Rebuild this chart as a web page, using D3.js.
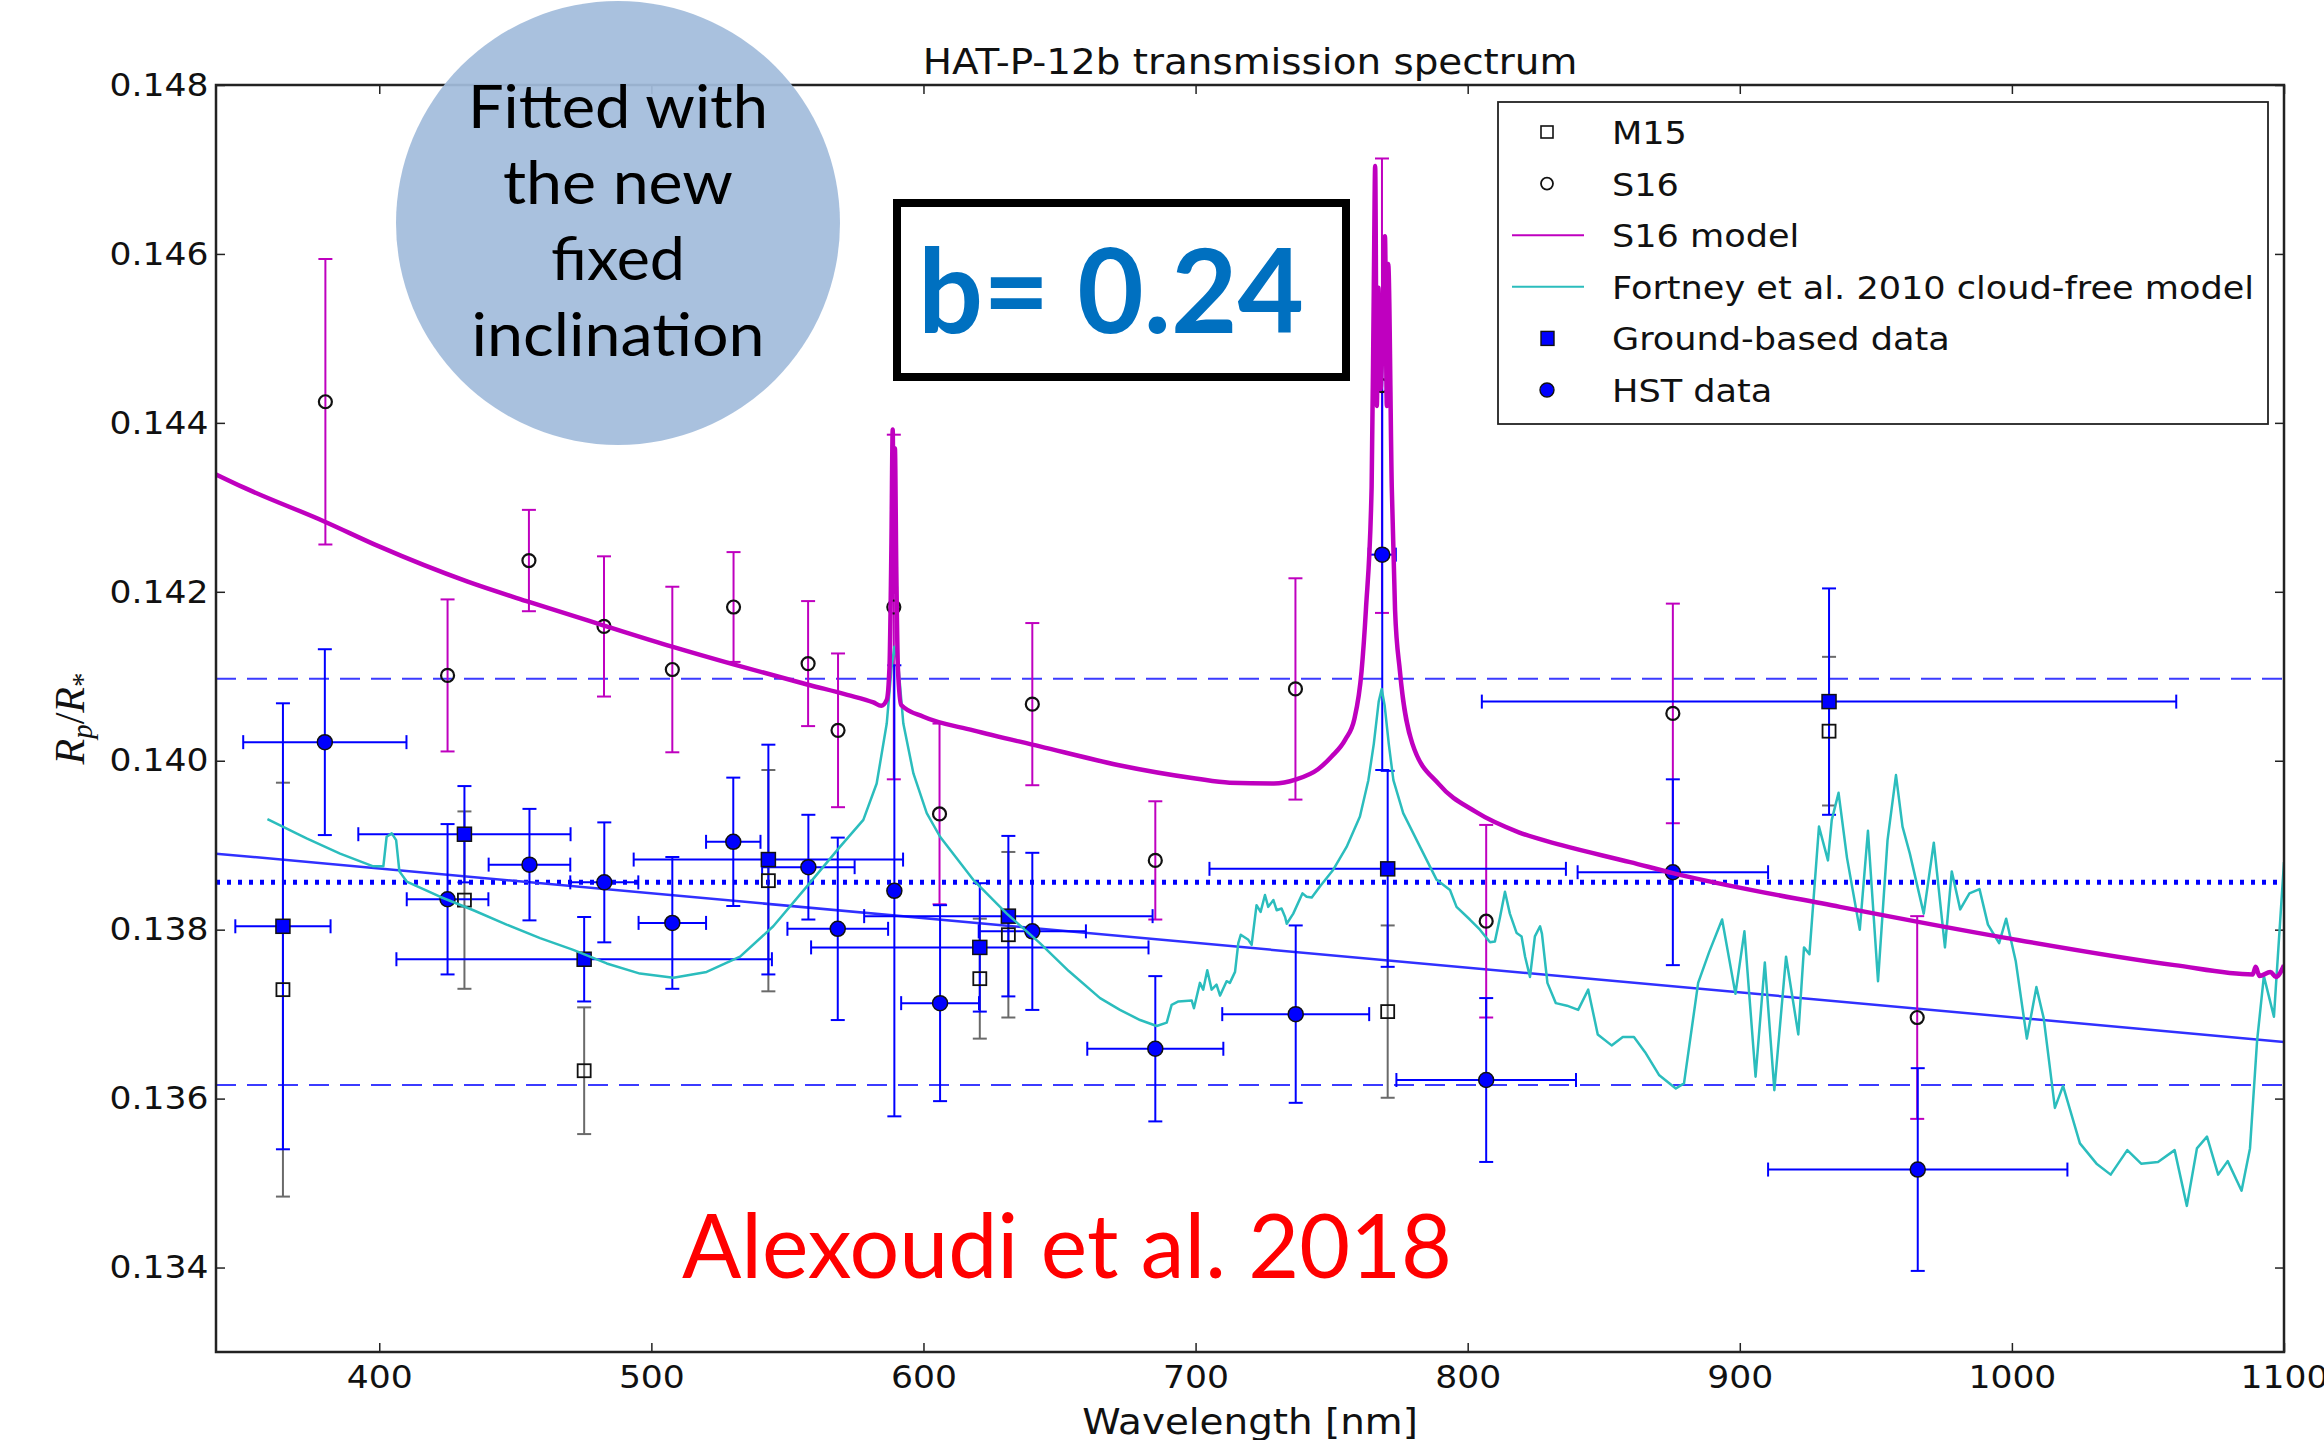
<!DOCTYPE html>
<html>
<head>
<meta charset="utf-8">
<script src="https://cdn.jsdelivr.net/npm/d3@7"></script>
<style>
  body { margin: 0; background: #fff; }
  text { font-family: "DejaVu Sans", sans-serif; }
</style>
</head>
<body>
<svg width="2324" height="1440"></svg>
<script>
// ---- data ----
const xTicks = [400, 500, 600, 700, 800, 900, 1000, 1100];
const yTicks = [0.134, 0.136, 0.138, 0.140, 0.142, 0.144, 0.146, 0.148];

// S16 (open circles, magenta error bars)
const s16Wave = [380.2, 425.1, 455.0, 482.6, 507.7, 530.2, 557.6, 568.6, 589.1, 605.9, 640.0, 685.2, 736.7, 768.5, 806.8, 875.4, 965.2];
const s16Val  = [0.14425, 0.14101, 0.14237, 0.14159, 0.14108, 0.14182, 0.14115, 0.14036, 0.14182, 0.13937, 0.14067, 0.13882, 0.14085, 0.14444, 0.13810, 0.14056, 0.13696];
const s16Err  = [0.00169, 0.0009, 0.0006, 0.00083, 0.00098, 0.00065, 0.00074, 0.00091, 0.00204, 0.00107, 0.00096, 0.0007, 0.00131, 0.00269, 0.00114, 0.0013, 0.0012];

// M15 (open squares, grey error bars)
const m15Wave = [364.6, 431.3, 475.3, 543.0, 620.7, 631.2, 770.6, 932.8];
const m15Val  = [0.13729, 0.13835, 0.13633, 0.13858, 0.13742, 0.13794, 0.13703, 0.14035];
const m15Err  = [0.00245, 0.00105, 0.00075, 0.00131, 0.00071, 0.00098, 0.00102, 0.00088];

// ground-based (filled squares)
const groundWave    = [364.6, 431.3, 475.3, 543.0, 620.7, 631.2, 770.6, 932.8];
const groundWaveErr = [17.5, 39, 69, 49.5, 62, 53, 65.5, 127.6];
const groundVal     = [0.13804, 0.13913, 0.13765, 0.13883, 0.13779, 0.13816, 0.13872, 0.14070];
const groundErr     = [0.00264, 0.00057, 0.0005, 0.00136, 0.00076, 0.00095, 0.00116, 0.00134];

// HST (filled circles)
const hstWave    = [380.0, 425.1, 455.2, 482.7, 507.7, 530.1, 557.7, 568.5, 589.3, 606.1, 640.0, 685.2, 736.8, 768.6, 806.8, 875.4, 965.4];
const hstWaveErr = [30, 15, 15, 12.5, 12.4, 10, 17, 18.5, 1, 14.3, 19.7, 25, 27, 5, 33, 35, 55];
const hstVal     = [0.14022, 0.13836, 0.13877, 0.13856, 0.13808, 0.13904, 0.13874, 0.13801, 0.13846, 0.13713, 0.13798, 0.13659, 0.13700, 0.14244, 0.13622, 0.13868, 0.13516];
const hstErr     = [0.0011, 0.00089, 0.00066, 0.00071, 0.00078, 0.00076, 0.00062, 0.00108, 0.00267, 0.00116, 0.00093, 0.00086, 0.00105, 0.00255, 0.00097, 0.0011, 0.0012];

// S16 model (wavelength, Rp/R*)
const s16Model = [
  [340, 0.14339], [350.5, 0.14323], [380, 0.14283], [399.7, 0.14254], [432.5, 0.14212], [455, 0.14188],
  [482.6, 0.14160], [507.6, 0.14135], [530.2, 0.14114], [557.6, 0.14090], [572, 0.14078], [581.6, 0.14069],
  [584.5, 0.14065], [586.5, 0.14072], [587.5, 0.14110], [588.2, 0.14250], [588.7, 0.14392], [589.1, 0.14200],
  [589.5, 0.14370], [590, 0.14230], [590.6, 0.14110], [591.8, 0.14066], [600, 0.14052], [618.3, 0.14036],
  [642.8, 0.14017], [671.4, 0.13995], [700, 0.13979], [712.5, 0.13974], [728.8, 0.13973], [737, 0.13978],
  [745, 0.13990], [750, 0.14005], [755, 0.14025], [758.4, 0.14050], [761, 0.14106], [762.6, 0.14179],
  [764.7, 0.14324], [765.5, 0.14560], [766, 0.14704], [766.6, 0.14420], [767.2, 0.14560], [768, 0.14440],
  [768.7, 0.14500], [769.6, 0.14621], [770.3, 0.14420], [770.8, 0.14588], [772.1, 0.14324], [773.3, 0.14179],
  [775.1, 0.14106], [779.7, 0.14020], [789.5, 0.13972], [802.7, 0.13940], [819, 0.13915],
  [834.5, 0.13900], [859.7, 0.13880], [875.4, 0.13867], [936.8, 0.13827], [998.2, 0.13790], [1059.8, 0.13758],
  [1088.5, 0.13747], [1089.6, 0.13756], [1091, 0.13745], [1095, 0.13750], [1097, 0.13744], [1100, 0.13758]
];

// Fortney et al. 2010 cloud-free model
const fortneyModel = [
  [358.9, 0.13931], [373.3, 0.13908], [385.6, 0.13890], [397.8, 0.13875], [401.5, 0.13875], [402.7, 0.13910],
  [404.6, 0.13914], [406.2, 0.13906], [407.4, 0.13869], [410.1, 0.13857], [422.3, 0.13839], [434.6, 0.13823],
  [446.8, 0.13806], [459.1, 0.13790], [471.3, 0.13776], [483.6, 0.13760], [495.8, 0.13748], [508.1, 0.13743],
  [520.3, 0.13750], [532.6, 0.13768], [544.8, 0.13804], [557.1, 0.13851], [569.3, 0.13898], [577.9, 0.13930],
  [582.8, 0.13973], [586.5, 0.14044], [588.3, 0.14111], [589.3, 0.14135], [590.8, 0.14111], [592.6, 0.14044],
  [596.3, 0.13985], [601.2, 0.13938], [606.1, 0.13910], [618.3, 0.13859], [630.6, 0.13819], [642.8, 0.13784],
  [653.4, 0.13751], [664.9, 0.13719], [672.2, 0.13705], [679.6, 0.13693], [685.7, 0.13686], [689.4, 0.13690],
  [691.2, 0.13711], [693.7, 0.13715], [698.6, 0.13716], [699.4, 0.13707], [701.6, 0.13737], [702.8, 0.13729],
  [704.3, 0.13752], [705.9, 0.13729], [707.7, 0.13735], [709, 0.13722], [711.4, 0.13739], [712.6, 0.13737],
  [714.5, 0.13750], [715.7, 0.13784], [716.6, 0.13794], [719.4, 0.13788], [720.6, 0.13782], [722.4, 0.13829],
  [723.9, 0.13821], [725.5, 0.13841], [726.7, 0.13827], [728.6, 0.13835], [729.8, 0.13823], [731.6, 0.13825],
  [732.9, 0.13815], [733.5, 0.13807], [735.9, 0.13819], [739.3, 0.13843], [740.8, 0.13839], [742.7, 0.13838],
  [745.7, 0.13851], [750.6, 0.13871], [755.5, 0.13898], [760.4, 0.13934], [763.5, 0.13977], [765.5, 0.14020],
  [767.3, 0.14070], [768.4, 0.14085], [769.5, 0.14065], [771, 0.14020], [772.7, 0.13977], [776.3, 0.13938],
  [782.5, 0.13898], [788.6, 0.13859], [793.5, 0.13847], [795.9, 0.13827], [800.8, 0.13812], [804.5, 0.13800],
  [808.2, 0.13785], [810, 0.13786], [811.9, 0.13815], [813.7, 0.13845], [815.5, 0.13819], [818, 0.13796],
  [819.8, 0.13792], [821.1, 0.13768], [822.9, 0.13744], [824.7, 0.13792], [826.6, 0.13804], [827.3, 0.13795],
  [829.3, 0.13737], [832.4, 0.13713], [836.5, 0.13710], [840.6, 0.13705], [844.3, 0.13729], [847.8, 0.13676],
  [852.9, 0.13663], [857, 0.13673], [861.1, 0.13673], [865.2, 0.13655], [870.3, 0.13628], [876.5, 0.13612],
  [879.5, 0.13618], [884.7, 0.13737], [888.8, 0.13774], [893.5, 0.13812], [898.4, 0.13724], [901.7, 0.13798],
  [905.8, 0.13626], [909.2, 0.13761], [912.7, 0.13610], [917, 0.13768], [921.5, 0.13676], [923.6, 0.13779],
  [925.6, 0.13771], [929.1, 0.13922], [932.4, 0.13882], [933.8, 0.13930], [936.3, 0.13962], [939.4, 0.13885],
  [944.1, 0.13800], [947.1, 0.13917], [950.8, 0.13739], [954.3, 0.13906], [957.4, 0.13983], [959.8, 0.13922],
  [962.5, 0.13890], [967.6, 0.13819], [971.3, 0.13903], [975.4, 0.13779], [977.9, 0.13869], [981, 0.13824],
  [984.4, 0.13843], [988.1, 0.13848], [991.2, 0.13806], [995.3, 0.13784], [997.9, 0.13813], [1001.4, 0.13763],
  [1005.5, 0.13671], [1009, 0.13732], [1011.7, 0.13695], [1015.8, 0.13589], [1018.8, 0.13615], [1025, 0.13547],
  [1031.1, 0.13523], [1036.3, 0.13510], [1042.4, 0.13539], [1047.5, 0.13523], [1053.7, 0.13525], [1059.8, 0.13539],
  [1064.3, 0.13473], [1068, 0.13541], [1071.7, 0.13555], [1075.8, 0.13510], [1079.3, 0.13526], [1084.4, 0.13491],
  [1087.5, 0.13541], [1090.1, 0.13668], [1092.6, 0.13745], [1096.3, 0.13697], [1100, 0.13880]
];

// straight-line fit and flat mean +/- 1 sigma
const fitLine = [[340, 0.13890], [1100, 0.13667]];
const meanLevel = 0.13856;
const sigmaBand = [0.13616, 0.14097];

const legendLabels = ["M15", "S16", "S16 model", "Fortney et al. 2010 cloud-free model", "Ground-based data", "HST data"];
const circleLines = ["Fitted with", "the new", "fixed", "inclination"];

// ---- chart ----
const svg = d3.select("svg"),
    margin = {top: 85, right: 40, bottom: 88, left: 216},
    SVGWidth = +svg.attr("width"),
    SVGHeight = +svg.attr("height"),
    width = SVGWidth - margin.left - margin.right,
    height = SVGHeight - margin.top - margin.bottom;

const blue = "#0000ff", magenta = "#bf00bf", cyan = "#2bbdbd", grey = "#6a6a6a";
const stretch = "scale(1.08,1)";

let x = d3.scaleLinear().domain([340, 1100]).range([0, width]);
let y = d3.scaleLinear().domain([0.133, 0.148]).range([height, 0]);

const g = svg.append("g")
    .attr("transform", "translate(" + margin.left + "," + margin.top + ")");

// axes, ticks pointing inward on all four sides
g.append("g")
    .attr("class", "axis axis--x")
    .attr("transform", "translate(0," + height + ")")
    .call(d3.axisBottom(x).tickValues(xTicks).tickSize(-9).tickSizeOuter(0).tickPadding(13).tickFormat(d3.format("d")));
g.append("g")
    .attr("class", "axis axis--y")
    .call(d3.axisLeft(y).tickValues(yTicks).tickSize(-9).tickSizeOuter(0).tickPadding(7).tickFormat(d3.format(".3f")));
g.append("g")
    .call(d3.axisTop(x).tickValues(xTicks).tickSize(-9).tickSizeOuter(0).tickFormat(""));
g.append("g")
    .attr("transform", "translate(" + width + ",0)")
    .call(d3.axisRight(y).tickValues(yTicks).tickSize(-9).tickSizeOuter(0).tickFormat(""));

g.selectAll(".domain").remove();
g.selectAll(".tick line").attr("stroke", "#222").attr("stroke-width", 1.5);
g.selectAll(".axis text")
    .style("font-family", "DejaVu Sans")
    .style("font-size", "32px")
    .attr("fill", "#111")
    .attr("transform", stretch);

// plot area clip
svg.append("defs").append("clipPath").attr("id", "plotclip")
  .append("rect").attr("width", width).attr("height", height);
const plot = g.append("g").attr("clip-path", "url(#plotclip)");

// reference lines
sigmaBand.forEach(v => {
  plot.append("line")
      .attr("x1", 0).attr("x2", width)
      .attr("y1", y(v)).attr("y2", y(v))
      .attr("stroke", "#3b3bff").attr("stroke-width", 2)
      .attr("stroke-dasharray", "20,11");
});
plot.append("line")
    .attr("x1", 0).attr("x2", width)
    .attr("y1", y(meanLevel)).attr("y2", y(meanLevel))
    .attr("stroke", blue).attr("stroke-width", 5)
    .attr("stroke-dasharray", "4,7");
plot.append("path")
    .datum(fitLine)
    .attr("d", d3.line().x(d => x(d[0])).y(d => y(d[1])))
    .attr("fill", "none").attr("stroke", "#3030ff").attr("stroke-width", 2.5);

// error bars: vertical (and optional horizontal) with caps
function errorBars(wave, val, err, waveErr, color) {
  const eg = plot.append("g").attr("stroke", color).attr("stroke-width", 2).attr("fill", "none");
  wave.forEach((w, i) => {
    const cx = x(w), top = y(val[i] + err[i]), bot = y(val[i] - err[i]);
    eg.append("line").attr("x1", cx).attr("x2", cx).attr("y1", top).attr("y2", bot);
    eg.append("line").attr("x1", cx - 7).attr("x2", cx + 7).attr("y1", top).attr("y2", top);
    eg.append("line").attr("x1", cx - 7).attr("x2", cx + 7).attr("y1", bot).attr("y2", bot);
    if (waveErr) {
      const cy = y(val[i]), l = x(w - waveErr[i]), r = x(w + waveErr[i]);
      eg.append("line").attr("x1", l).attr("x2", r).attr("y1", cy).attr("y2", cy);
      eg.append("line").attr("x1", l).attr("x2", l).attr("y1", cy - 7).attr("y2", cy + 7);
      eg.append("line").attr("x1", r).attr("x2", r).attr("y1", cy - 7).attr("y2", cy + 7);
    }
  });
}

errorBars(m15Wave, m15Val, m15Err, null, grey);
errorBars(s16Wave, s16Val, s16Err, null, magenta);
errorBars(groundWave, groundVal, groundErr, groundWaveErr, blue);
errorBars(hstWave, hstVal, hstErr, hstWaveErr, blue);

// markers
plot.append("g").selectAll("rect")
    .data(m15Wave).enter().append("rect")
    .attr("x", (d, i) => x(d) - 6.5).attr("y", (d, i) => y(m15Val[i]) - 6.5)
    .attr("width", 13).attr("height", 13)
    .attr("fill", "none").attr("stroke", "#111").attr("stroke-width", 1.8);
plot.append("g").selectAll("circle")
    .data(s16Wave).enter().append("circle")
    .attr("cx", d => x(d)).attr("cy", (d, i) => y(s16Val[i])).attr("r", 6.5)
    .attr("fill", "none").attr("stroke", "#111").attr("stroke-width", 2.2);
plot.append("g").selectAll("rect")
    .data(groundWave).enter().append("rect")
    .attr("x", d => x(d) - 7).attr("y", (d, i) => y(groundVal[i]) - 7)
    .attr("width", 14).attr("height", 14)
    .attr("fill", blue).attr("stroke", "#111").attr("stroke-width", 1.5);
plot.append("g").selectAll("circle")
    .data(hstWave).enter().append("circle")
    .attr("cx", d => x(d)).attr("cy", (d, i) => y(hstVal[i])).attr("r", 7.5)
    .attr("fill", blue).attr("stroke", "#111").attr("stroke-width", 1.5);

// models
const lineGen = d3.line().x(d => x(d[0])).y(d => y(d[1]));
const smoothGen = d3.line().curve(d3.curveMonotoneX).x(d => x(d[0])).y(d => y(d[1]));
plot.append("path").datum(fortneyModel)
    .attr("d", lineGen).attr("fill", "none")
    .attr("stroke", cyan).attr("stroke-width", 2.5).attr("stroke-linejoin", "round");
plot.append("path").datum(s16Model)
    .attr("d", smoothGen).attr("fill", "none")
    .attr("stroke", magenta).attr("stroke-width", 4.5).attr("stroke-linejoin", "round");

// frame
g.append("rect")
    .attr("width", width).attr("height", height)
    .attr("fill", "none").attr("stroke", "#222").attr("stroke-width", 2.5);

// title and labels
svg.append("text")
    .attr("transform", "translate(" + (margin.left + width / 2) + ",74) " + stretch)
    .attr("text-anchor", "middle")
    .style("font-size", "36px").attr("fill", "#111")
    .text("HAT-P-12b transmission spectrum");
svg.append("text")
    .attr("transform", "translate(" + (margin.left + width / 2) + ",1434) " + stretch)
    .attr("text-anchor", "middle")
    .style("font-size", "36px").attr("fill", "#111")
    .text("Wavelength [nm]");

const yl = svg.append("text")
    .attr("transform", "translate(84," + (margin.top + height / 2) + ") rotate(-90)")
    .attr("text-anchor", "middle")
    .style("font-family", "Liberation Serif").style("font-size", "42px").attr("fill", "#111");
yl.append("tspan").style("font-style", "italic").text("R");
yl.append("tspan").style("font-style", "italic").style("font-size", "29px").attr("dy", 8).text("p");
yl.append("tspan").attr("dy", -8).text("/");
yl.append("tspan").style("font-style", "italic").text("R");
yl.append("tspan").style("font-size", "29px").attr("dy", 8).text("*");

// legend
const legend = svg.append("g").attr("transform", "translate(1498,102)");
legend.append("rect")
    .attr("width", 770).attr("height", 322)
    .attr("fill", "#fff").attr("stroke", "#222").attr("stroke-width", 1.8);
const rowY = d => 30 + d * 51.6;
legendLabels.forEach((lab, i) => {
  legend.append("text")
      .attr("transform", "translate(114," + (rowY(i) + 12) + ") " + stretch)
      .style("font-size", "32.5px").attr("fill", "#111")
      .text(lab);
});
legend.append("rect").attr("x", 43).attr("y", rowY(0) - 6).attr("width", 12).attr("height", 12)
    .attr("fill", "none").attr("stroke", "#111").attr("stroke-width", 1.6);
legend.append("circle").attr("cx", 49).attr("cy", rowY(1)).attr("r", 6)
    .attr("fill", "none").attr("stroke", "#111").attr("stroke-width", 1.8);
legend.append("line").attr("x1", 14).attr("x2", 86).attr("y1", rowY(2)).attr("y2", rowY(2))
    .attr("stroke", magenta).attr("stroke-width", 2);
legend.append("line").attr("x1", 14).attr("x2", 86).attr("y1", rowY(3)).attr("y2", rowY(3))
    .attr("stroke", cyan).attr("stroke-width", 2);
legend.append("rect").attr("x", 43).attr("y", rowY(4) - 7).attr("width", 13).attr("height", 14)
    .attr("fill", blue).attr("stroke", "#111").attr("stroke-width", 1.4);
legend.append("circle").attr("cx", 49).attr("cy", rowY(5)).attr("r", 7)
    .attr("fill", blue).attr("stroke", "#111").attr("stroke-width", 1.4);

// ---- slide annotations ----
svg.append("circle")
    .attr("cx", 618).attr("cy", 223).attr("r", 222)
    .attr("fill", "#a2bcdc").attr("fill-opacity", 0.93);
const circleWidths = [300, 230, 134, 293];
circleLines.forEach((t, i) => {
  svg.append("text")
      .attr("x", 618).attr("y", 128 + i * 76)
      .attr("text-anchor", "middle")
      .attr("textLength", circleWidths[i]).attr("lengthAdjust", "spacingAndGlyphs")
      .style("font-family", "Lato").style("font-size", "60px").attr("fill", "#000")
      .text(t);
});

svg.append("rect")
    .attr("x", 897).attr("y", 203).attr("width", 449).attr("height", 174)
    .attr("fill", "#fff").attr("stroke", "#000").attr("stroke-width", 8);
svg.append("text")
    .attr("x", 918).attr("y", 333)
    .attr("textLength", 386).attr("lengthAdjust", "spacingAndGlyphs")
    .style("font-family", "Lato").style("font-weight", "bold").style("font-size", "116px")
    .attr("fill", "#0070c0")
    .text("b= 0.24");

svg.append("text")
    .attr("x", 682).attr("y", 1278)
    .attr("textLength", 770).attr("lengthAdjust", "spacingAndGlyphs")
    .style("font-family", "Lato").style("font-size", "90px")
    .attr("fill", "#ff0000")
    .text("Alexoudi et al. 2018");
</script>
</body>
</html>
